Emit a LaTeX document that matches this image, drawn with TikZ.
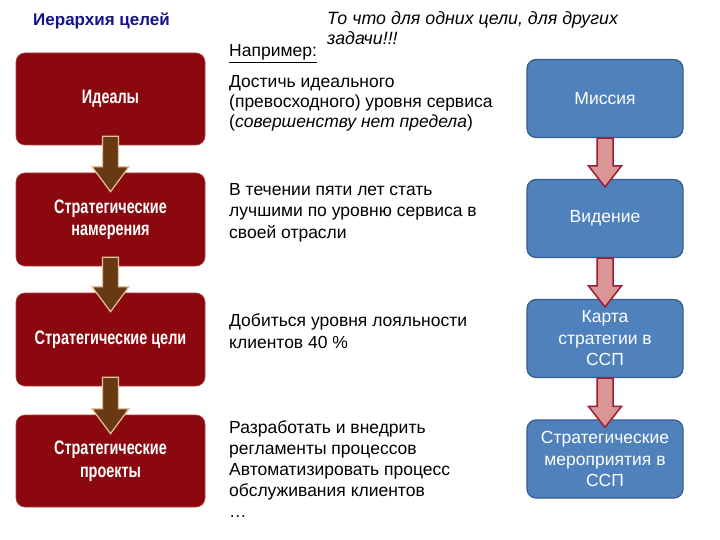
\documentclass[tikz,border=0pt]{standalone}
\usepackage{fontspec}
\setmainfont{Liberation Sans}
\newfontfamily\narrowbold[FakeStretch=0.74]{Liberation Sans}
\usetikzlibrary{calc}
\definecolor{redbox}{RGB}{138,8,14}
\definecolor{rededge}{RGB}{170,60,60}
\definecolor{brownarr}{RGB}{105,58,18}
\definecolor{brownedge}{RGB}{225,195,160}
\definecolor{bluebox}{RGB}{79,129,189}
\definecolor{blueedge}{RGB}{56,93,138}
\definecolor{pinkarr}{RGB}{217,150,148}
\definecolor{pinkedge}{RGB}{160,28,50}
\definecolor{navytitle}{RGB}{20,20,140}
\tikzset{
  redstep/.style={draw=rededge, line width=0.6pt, fill=redbox, rounded corners=9pt,
    minimum width=189pt, inner sep=0pt, text=white, align=center,
    font=\narrowbold\bfseries\fontsize{19.5}{22.5}\selectfont},
  bluestep/.style={draw=blueedge, line width=1.2pt, fill=bluebox, rounded corners=9pt,
    minimum width=156pt, minimum height=78pt, inner sep=0pt, text=white, align=center,
    font=\fontsize{17.5}{21.5}\selectfont},
  brownarrow/.style={draw=brownedge, line width=1.2pt, fill=brownarr, line join=miter},
  pinkarrow/.style={draw=pinkedge, line width=1.5pt, fill=pinkarr, line join=miter},
  bodytext/.style={anchor=base west, inner sep=0pt, align=left,
    font=\fontsize{17.5}{21.5}\selectfont},
}
\begin{document}
\begin{tikzpicture}[x=1pt,y=-1pt]
\useasboundingbox[fill=white] (0,0) rectangle (720,540);

% titles (base anchor = baseline of the last line)
\node[anchor=base west, inner sep=0pt, text=navytitle,
  font=\bfseries\fontsize{17}{20}\selectfont] (title) at (33,26) {Иерархия целей};
\node[anchor=base west, inner sep=0pt, align=left,
  font=\itshape\fontsize{17.8}{20}\selectfont] (note) at (327,45)
  {То что для одних цели, для других\\задачи!!!};
\node[anchor=base west, inner sep=0pt, font=\fontsize{17.5}{20}\selectfont] (example)
  at (229,57) {\underline{Например:}};

% left red boxes
\node[redstep, minimum height=92pt] (r1) at (110.5,99) {Идеалы};
\node[redstep, minimum height=93pt] (r2) at (110.5,219.5) {Стратегические\\намерения};
\node[redstep, minimum height=93pt] (r3) at (110.5,339.5) {Стратегические цели};
\node[redstep, minimum height=92pt] (r4) at (110.5,461) {Стратегические\\проекты};

% brown block arrows
\foreach \a/\b in {r1/r2, r2/r3, r3/r4}{
  \draw[brownarrow] let \p1=(\a.south), \p2=(\b.north) in
    (\x1-8pt,\y1+9pt) -- (\x1-8pt,\y2-19pt+25pt) -- (\x1-18.5pt,\y2-19pt+25pt)
    -- (\x1,\y2-19pt) -- (\x1+18.5pt,\y2-19pt+25pt) -- (\x1+8pt,\y2-19pt+25pt)
    -- (\x1+8pt,\y1+9pt) -- cycle;
}

% right blue boxes
\node[bluestep] (b1) at (605,98.5) {Миссия};
\node[bluestep] (b2) at (605,218.5) {Видение};
\node[bluestep] (b3) at (605,338.5) {Карта\\стратегии в\\ССП};
\node[bluestep] (b4) at (605,459) {Стратегические\\мероприятия в\\ССП};

% pink block arrows
\foreach \a/\b in {b1/b2, b2/b3, b3/b4}{
  \draw[pinkarrow] let \p1=(\a.south), \p2=(\b.north) in
    (\x1-8pt,\y1) -- (\x1-8pt,\y2-8pt+21pt) -- (\x1-16.5pt,\y2-8pt+21pt)
    -- (\x1,\y2-8pt) -- (\x1+16.5pt,\y2-8pt+21pt) -- (\x1+8pt,\y2-8pt+21pt)
    -- (\x1+8pt,\y1) -- cycle;
}

% middle texts
\node[bodytext, font=\fontsize{17.5}{20}\selectfont] (t1) at (229,128)
  {Достичь идеального\\(превосходного) уровня сервиса\\(\textit{совершенству нет предела})};
\node[bodytext] (t2) at (229,238)
  {В течении пяти лет стать\\лучшими по уровню сервиса в\\своей отрасли};
\node[bodytext] (t3) at (229,348)
  {Добиться уровня лояльности\\клиентов 40 \%};
\node[bodytext, font=\fontsize{17.5}{21}\selectfont] (t4) at (229,517)
  {Разработать и внедрить\\регламенты процессов\\Автоматизировать процесс\\обслуживания клиентов\\\dots};
\end{tikzpicture}
\end{document}
